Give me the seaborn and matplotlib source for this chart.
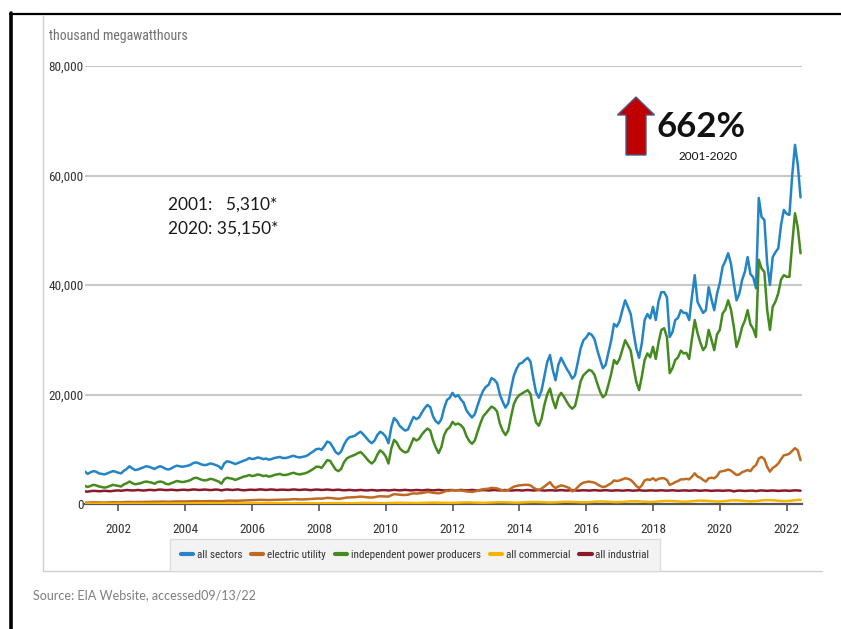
import os
import numpy as np
import pandas as pd
import matplotlib
matplotlib.use("Agg")
import matplotlib.pyplot as plt
import seaborn as sns
from matplotlib.lines import Line2D
from matplotlib.patches import FancyArrow
from matplotlib import font_manager as fm

# ---------------- data (thousand megawatthours, monthly from Jan 2001) ----------------
start_year = 2001
series_names = ["all sectors", "electric utility", "independent power producers",
                "all commercial", "all industrial"]

all_sectors = [
    5900, 5500, 5800, 6000, 5900, 5600, 5500, 5400, 5600, 5800, 6000, 5900,
    5700, 5600, 6100, 6400, 6900, 6500, 6200, 6300, 6500, 6700, 6900, 6800,
    6600, 6400, 6700, 6900, 6700, 6400, 6300, 6500, 6800, 7000, 6900, 6800,
    6900, 7000, 7200, 7500, 7600, 7400, 7200, 7100, 7200, 7400, 7300, 7100,
    6900, 6400, 7400, 7800, 7700, 7500, 7300, 7500, 7700, 7900, 8100, 8400,
    8200, 8300, 8500, 8400, 8200, 8300, 8100, 8200, 8400, 8500, 8600, 8400,
    8400, 8500, 8700, 8800, 8600, 8500, 8600, 8700, 8900, 9300, 9600, 10000,
    10100, 9900, 10600, 11400, 11200, 10400, 9500, 9100, 9600, 10800, 11700, 12200,
    12300, 12500, 12900, 13200, 12700, 12100, 11500, 11100, 11600, 12600, 13200, 12900,
    12300, 11100, 14000, 15700, 15200, 14300, 13800, 13400, 13600, 14800, 15900, 15500,
    15800, 16700, 17500, 18100, 17700, 16000, 15100, 14700, 15500, 17500, 19000, 19400,
    20300, 19600, 19900, 19100, 18500, 17100, 16400, 15800, 16400, 18000, 19500, 20700,
    21400, 21800, 23000, 22700, 22100, 20000, 18700, 17600, 18400, 21000, 23400, 24700,
    25600, 25800, 26300, 26700, 26000, 23000, 20400, 19400, 20800, 23400, 25900, 27200,
    24500, 22600, 25400, 26700, 25700, 24700, 23900, 22900, 23500, 25900, 28400, 29900,
    30400, 31200, 30900, 30100, 28100, 26400, 24800, 25400, 27700, 29900, 32900, 32400,
    33400, 35400, 37200, 36000, 34700, 31400, 28400, 26700, 29400, 33600, 34700, 33900,
    36000, 33600, 37000, 38700, 38700, 37800, 30500, 31400, 33600, 34000, 35400, 34900,
    34900, 33600, 37900, 41800, 36900, 35900, 34900, 35400, 39600, 37400, 35400, 38400,
    40400, 43300, 44400, 45800, 43900, 40400, 37200, 38400, 40900, 42400, 45100, 42000,
    41400, 39400, 55900, 52400, 51900, 44000, 40000, 45100, 46000, 46700, 51000, 53700,
    53000, 52800, 60000, 65600, 62000, 56000,
]

electric_utility = [
    250, 250, 280, 300, 300, 280, 270, 260, 280, 300, 320, 300,
    300, 320, 340, 360, 380, 360, 350, 360, 380, 400, 410, 400,
    400, 410, 430, 450, 440, 420, 410, 430, 450, 470, 460, 450,
    460, 480, 500, 520, 530, 510, 500, 500, 520, 540, 530, 520,
    520, 500, 560, 600, 620, 600, 580, 600, 630, 650, 670, 690,
    700, 720, 750, 760, 740, 730, 720, 740, 770, 800, 820, 800,
    800, 820, 850, 880, 860, 840, 830, 850, 880, 920, 950, 980,
    1000, 980, 1050, 1120, 1100, 1050, 980, 950, 1000, 1100, 1180, 1200,
    1220, 1250, 1300, 1350, 1300, 1250, 1200, 1180, 1250, 1350, 1420, 1400,
    1400, 1350, 1600, 1800, 1750, 1700, 1650, 1650, 1700, 1850, 1950, 1900,
    1950, 2000, 2100, 2200, 2150, 2050, 2000, 1950, 2050, 2250, 2400, 2400,
    2550, 2500, 2500, 2450, 2400, 2300, 2250, 2200, 2300, 2450, 2600, 2700,
    2750, 2800, 2950, 2900, 2850, 2650, 2500, 2400, 2550, 2850, 3150, 3300,
    3400, 3450, 3500, 3500, 3400, 3000, 2700, 2600, 2800, 3200, 3600, 4000,
    3300, 2900, 3200, 3400, 3300, 3100, 2900, 2300, 2600, 3100, 3600, 3900,
    4000, 4100, 4000, 3900, 3600, 3300, 3100, 3200, 3500, 3800, 4300, 4200,
    4300, 4500, 4700, 4600, 4400, 3900, 3300, 2900, 3400, 4300, 4500, 4400,
    4700, 4300, 4600, 4700, 4700, 4400, 3500, 3700, 4000, 4200, 4500, 4500,
    4600, 4500, 5000, 5600, 5000, 4800, 4400, 4100, 4700, 4800, 4700, 5100,
    5900, 6000, 6100, 6300, 6100, 5700, 5300, 5400, 5800, 6000, 6200, 6000,
    6700, 7100, 8300, 8600, 8200, 6800, 5900, 6600, 6900, 7400, 8200, 8900,
    9000, 9200, 9700, 10200, 9800, 8000,
]

independent_power = [
    3300, 3100, 3300, 3500, 3400, 3200, 3100, 3000, 3100, 3300, 3500, 3400,
    3300, 3200, 3600, 3800, 4100, 3800, 3600, 3700, 3800, 4000, 4100, 4000,
    3900, 3700, 4000, 4100, 4000, 3700, 3600, 3800, 4000, 4200, 4100, 4000,
    4100, 4200, 4400, 4700, 4800, 4600, 4400, 4300, 4400, 4600, 4500, 4300,
    4100, 3700, 4500, 4800, 4700, 4600, 4400, 4600, 4800, 5000, 5100, 5300,
    5100, 5200, 5400, 5300, 5100, 5200, 5000, 5100, 5300, 5400, 5500, 5300,
    5300, 5400, 5600, 5700, 5500, 5400, 5500, 5600, 5800, 6100, 6400, 6800,
    6800, 6600, 7300, 8000, 7900, 7100, 6300, 6000, 6400, 7600, 8300, 8600,
    8800, 9000, 9300, 9500, 9000, 8400, 7800, 7400, 7900, 9000, 9800, 9400,
    8700, 7400, 10100, 11700, 11200, 10200, 9700, 9400, 9600, 10800, 12000, 11600,
    11900, 12700, 13300, 13800, 13400, 11600, 10300, 9300, 10400, 12600, 13600, 14000,
    15000, 14500, 14700, 14400, 13800, 12400, 11500, 11000, 11600, 13200, 14700, 16000,
    16600, 17200, 17800, 17500, 16900, 14700, 13400, 12600, 13400, 15900, 18200, 19300,
    19900, 20200, 20500, 20800, 20100, 17200, 14900, 14300, 15600, 18100, 20000, 21100,
    19000, 17500, 19500, 20300, 19600, 18700, 17900, 17400, 17900, 20000, 22400, 23500,
    24000, 24500, 24300, 23600, 22000, 20500, 19500, 20000, 21800, 23800, 26300, 25600,
    26500, 28200, 29900, 29000, 28000, 25000, 22300, 20800, 23300, 26300, 27500, 26800,
    28700, 26500, 29500, 31800, 32100, 30500, 23900, 24800, 26300, 26800, 28000, 27500,
    27600, 26500, 30200, 33600, 31200, 29500, 28100, 28800, 31800, 30000, 28100, 31000,
    31800, 34800, 35500, 37200, 35500, 32500, 28700, 30200, 32300, 33500, 35400, 32800,
    32000, 30500, 44600, 43000, 42400, 35500, 31800, 36000, 37000, 38500, 41000, 41800,
    41500, 41500, 47500, 53100, 50500, 45800,
]

all_commercial = [
    60, 60, 65, 70, 75, 75, 75, 72, 68, 65, 62, 60,
    65, 65, 70, 75, 80, 82, 80, 78, 74, 70, 68, 66,
    70, 72, 78, 85, 90, 92, 90, 88, 84, 80, 76, 74,
    78, 80, 88, 95, 100, 102, 100, 98, 94, 90, 86, 84,
    88, 90, 98, 106, 112, 115, 112, 110, 105, 100, 96, 94,
    98, 100, 110, 120, 128, 130, 128, 125, 118, 112, 106, 104,
    110, 115, 125, 138, 148, 152, 150, 146, 138, 128, 120, 116,
    125, 130, 145, 160, 172, 176, 174, 170, 160, 148, 138, 132,
    140, 148, 165, 182, 196, 200, 198, 192, 180, 166, 154, 148,
    158, 166, 186, 206, 222, 228, 226, 218, 204, 188, 174, 166,
    178, 188, 210, 234, 252, 258, 256, 248, 232, 212, 196, 188,
    200, 212, 238, 264, 284, 292, 290, 280, 262, 240, 222, 212,
    226, 240, 268, 298, 320, 330, 326, 316, 296, 270, 250, 240,
    254, 270, 302, 334, 360, 370, 366, 354, 332, 304, 280, 268,
    284, 302, 338, 374, 402, 414, 410, 396, 372, 340, 314, 300,
    318, 338, 378, 418, 450, 462, 458, 442, 414, 378, 350, 334,
    354, 376, 420, 464, 500, 514, 510, 492, 460, 420, 390, 372,
    392, 416, 466, 514, 552, 568, 562, 544, 508, 464, 430, 410,
    430, 456, 510, 562, 604, 620, 614, 594, 556, 508, 470, 448,
    466, 494, 552, 608, 652, 670, 664, 642, 600, 548, 508, 484,
    500, 530, 592, 652, 700, 718, 712, 688, 644, 588, 544, 518,
    534, 566, 632, 696, 746, 764,
]

all_industrial = [
    2300, 2250, 2350, 2400, 2380, 2320, 2360, 2410, 2370, 2330, 2400, 2450,
    2480, 2420, 2500, 2560, 2520, 2470, 2500, 2560, 2510, 2460, 2520, 2570,
    2560, 2500, 2590, 2640, 2600, 2540, 2560, 2610, 2560, 2510, 2560, 2600,
    2590, 2540, 2610, 2660, 2620, 2560, 2590, 2640, 2600, 2540, 2590, 2640,
    2600, 2480, 2590, 2650, 2610, 2560, 2600, 2660, 2560, 2500, 2550, 2600,
    2610, 2560, 2620, 2670, 2620, 2570, 2610, 2660, 2610, 2550, 2600, 2620,
    2600, 2560, 2610, 2660, 2620, 2560, 2600, 2650, 2600, 2540, 2590, 2640,
    2620, 2560, 2600, 2640, 2590, 2540, 2580, 2620, 2560, 2500, 2540, 2580,
    2540, 2480, 2530, 2570, 2520, 2470, 2510, 2560, 2510, 2460, 2500, 2540,
    2520, 2470, 2530, 2580, 2540, 2490, 2530, 2580, 2530, 2480, 2520, 2560,
    2540, 2480, 2540, 2590, 2550, 2490, 2530, 2580, 2520, 2470, 2510, 2550,
    2530, 2480, 2530, 2570, 2530, 2480, 2520, 2570, 2520, 2460, 2500, 2540,
    2520, 2470, 2520, 2560, 2520, 2470, 2510, 2560, 2510, 2450, 2490, 2530,
    2510, 2460, 2510, 2560, 2520, 2470, 2510, 2550, 2500, 2450, 2490, 2520,
    2500, 2450, 2500, 2540, 2500, 2450, 2490, 2540, 2490, 2440, 2480, 2510,
    2490, 2440, 2490, 2530, 2490, 2440, 2480, 2530, 2480, 2430, 2470, 2500,
    2480, 2430, 2480, 2520, 2480, 2430, 2470, 2520, 2470, 2420, 2460, 2490,
    2480, 2430, 2470, 2510, 2470, 2430, 2470, 2510, 2460, 2410, 2450, 2480,
    2470, 2420, 2460, 2500, 2460, 2420, 2460, 2500, 2450, 2400, 2440, 2470,
    2460, 2410, 2450, 2490, 2450, 2300, 2400, 2460, 2420, 2380, 2420, 2450,
    2440, 2350, 2440, 2480, 2440, 2400, 2440, 2480, 2430, 2390, 2430, 2460,
    2450, 2400, 2460, 2500, 2470, 2430,
]

x_ticks = [2002, 2004, 2006, 2008, 2010, 2012, 2014, 2016, 2018, 2020, 2022]
y_ticks = [0, 20000, 40000, 60000, 80000]
y_tick_labels = ["0", "20,000", "40,000", "60,000", "80,000"]

colors = {
    "all sectors": "#2384c6",
    "electric utility": "#bf6a22",
    "independent power producers": "#458a1f",
    "all commercial": "#f5b400",
    "all industrial": "#8a1a2b",
}

# ---------------- fonts ----------------
sns.set_theme(style="white")


def has_font(name):
    try:
        fm.findfont(fm.FontProperties(family=name), fallback_to_default=False)
        return True
    except Exception:
        return False


def find_narrow():
    """Pick a condensed sans-serif face from the installed fonts."""
    wanted = ["liberationsansnarrow-regular", "robotocondensed-regular",
              "dejavusanscondensed.ttf", "notosans-condensed", "opensans-condensed",
              "opensans_condensed-regular"]
    files = [f.fname for f in fm.fontManager.ttflist]
    for w in wanted:
        for f in files:
            if w in os.path.basename(f).lower():
                return fm.FontProperties(fname=f)
    for f in fm.fontManager.ttflist:
        if f.stretch in ("condensed", "semi-condensed", "extra-condensed") \
                and f.weight in (400, "normal", "regular") and f.style == "normal":
            return fm.FontProperties(fname=f.fname)
    return fm.FontProperties(family="DejaVu Sans")


BODY = "Lato" if has_font("Lato") else "DejaVu Sans"
plt.rcParams["font.family"] = [BODY, "DejaVu Sans"]
NARROW_FP = find_narrow()


def nfp(size):
    p = NARROW_FP.copy()
    p.set_size(size)
    return p


# ---------------- long data frame ----------------
n = len(all_sectors)
t = start_year + np.arange(n) / 12.0
wide = pd.DataFrame({
    "t": t,
    "all sectors": all_sectors,
    "electric utility": electric_utility,
    "independent power producers": independent_power,
    "all commercial": all_commercial,
    "all industrial": all_industrial,
})
long = wide.melt(id_vars="t", var_name="series", value_name="value")

# ---------------- figure ----------------
W, H = 841, 629
fig = plt.figure(figsize=(W / 100, H / 100), dpi=100)
fig.patch.set_facecolor("white")

ax_l, ax_r, ax_t, ax_b = 85, 802, 66, 504
ax = fig.add_axes([ax_l / W, 1 - ax_b / H, (ax_r - ax_l) / W, (ax_b - ax_t) / H])
ax.set_facecolor("white")

draw_order = ["all sectors", "independent power producers", "all industrial",
              "electric utility", "all commercial"]
sns.lineplot(data=long, x="t", y="value", hue="series", hue_order=draw_order,
             palette=colors, estimator=None, legend=False, linewidth=1.8, ax=ax)

ax.set_xlim(2001.0, 2022.46)
ax.set_ylim(0, 80000)
ax.set_xlabel("")
ax.set_ylabel("")

ax.set_xticks(x_ticks)
ax.set_xticklabels([str(v) for v in x_ticks])
ax.set_yticks(y_ticks)
ax.set_yticklabels(y_tick_labels)

ax.grid(axis="y", color="#c8c8c8", linewidth=1.5)
ax.grid(axis="x", visible=False)
ax.set_axisbelow(True)

for s in ["left", "right", "top"]:
    ax.spines[s].set_visible(False)
ax.spines["bottom"].set_color("#555555")
ax.spines["bottom"].set_linewidth(1.6)
ax.spines["bottom"].set_zorder(1)

ax.tick_params(axis="x", direction="out", length=5, width=1.2, color="#555555",
               pad=9, labelcolor="#333333", bottom=True)
ax.tick_params(axis="y", length=0, pad=1, labelcolor="#333333")
for lbl in ax.get_xticklabels() + ax.get_yticklabels():
    lbl.set_fontproperties(nfp(9.5))

# ---------------- texts ----------------
fig.text(49 / W, 1 - 36 / H, "thousand megawatthours", ha="left", va="center",
         color="#707070", fontproperties=nfp(10))

fig.text(168 / W, 1 - 205 / H, "2001:   5,310*", ha="left", va="center",
         fontsize=12.5, color="#1a1a1a", family=[BODY, "DejaVu Sans"])
fig.text(168 / W, 1 - 229 / H, "2020: 35,150*", ha="left", va="center",
         fontsize=12.5, color="#1a1a1a", family=[BODY, "DejaVu Sans"])

fig.text(657 / W, 1 - 127 / H, "662%", ha="left", va="center",
         fontsize=25, fontweight="bold", color="#111111", family=[BODY, "DejaVu Sans"])
fig.text(708 / W, 1 - 157 / H, "2001-2020", ha="center", va="center",
         fontsize=8.5, color="#111111", family=[BODY, "DejaVu Sans"])

fig.text(33 / W, 1 - 595 / H, "Source: EIA Website, accessed09/13/22", ha="left",
         va="center", fontsize=9, color="#7f7f7f", family=[BODY, "DejaVu Sans"])

# red arrow (inches, figure space)
arrow = FancyArrow(636 / 100, (H - 155) / 100, 0, 0.58, width=0.2, head_width=0.37,
                   head_length=0.18, length_includes_head=True,
                   transform=fig.dpi_scale_trans, facecolor="#c00000",
                   edgecolor="#4a5a8c", linewidth=1.0)
fig.add_artist(arrow)

# ---------------- legend ----------------
legend_order = ["all sectors", "electric utility", "independent power producers",
                "all commercial", "all industrial"]
handles = [Line2D([0], [0], color=colors[k], lw=3) for k in legend_order]
leg = fig.legend(handles, legend_order, loc="center left",
                 bbox_to_anchor=(170 / W, 1 - 555 / H), ncol=5, frameon=True,
                 fancybox=False, framealpha=1, facecolor="#f3f3f3", edgecolor="#dcdcdc",
                 prop=nfp(8.0), labelcolor="#333333",
                 handlelength=1.1, handletextpad=0.35, columnspacing=0.8,
                 borderpad=0.95, borderaxespad=0)

# ---------------- frame lines ----------------
fig.add_artist(Line2D([11 / W, 11 / W], [0, 1 - 13 / H], color="black", lw=2.6,
                      transform=fig.transFigure))
fig.add_artist(Line2D([10 / W, 1], [1 - 14 / H, 1 - 14 / H], color="black", lw=1.6,
                      transform=fig.transFigure))
fig.add_artist(Line2D([42.5 / W, 42.5 / W], [1 - 571 / H, 1 - 15 / H], color="#cfcfcf",
                      lw=1.0, transform=fig.transFigure))
fig.add_artist(Line2D([42.5 / W, 822 / W], [1 - 571 / H, 1 - 571 / H], color="#cfcfcf",
                      lw=1.0, transform=fig.transFigure))

fig.savefig("out.png", dpi=100)
